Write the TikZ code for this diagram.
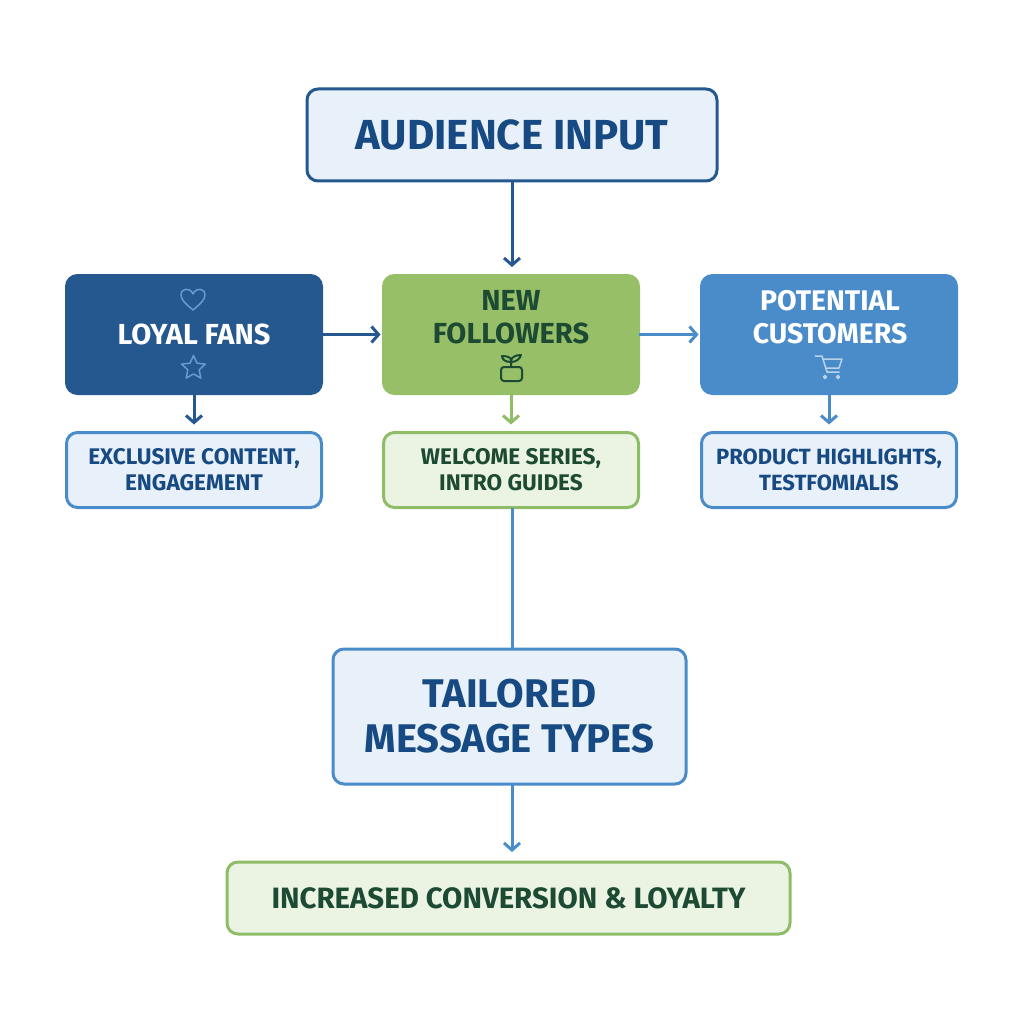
\documentclass[tikz,border=0pt]{standalone}
\usepackage{fontspec}
\setsansfont{Fira Sans}
\usetikzlibrary{arrows.meta,shapes.geometric}
\definecolor{navy}{HTML}{24588F}
\definecolor{navytext}{HTML}{174A82}
\definecolor{midblue}{HTML}{4A8BC9}
\definecolor{leaf}{HTML}{96BF68}
\definecolor{leafline}{HTML}{8FBC66}
\definecolor{leaftext}{HTML}{1C4A33}
\definecolor{paleblue}{HTML}{E8F0F9}
\definecolor{paleleaf}{HTML}{EBF4E3}
\tikzset{
  box/.style={draw,rounded corners=11pt,line width=3pt,align=center,inner sep=0pt,outer sep=0pt,font=\sffamily\bfseries},
  bigbox/.style={box,minimum width=255pt,minimum height=118pt,font=\sffamily\bfseries\fontsize{29}{33}\selectfont},
  subbox/.style={box,minimum width=255pt,minimum height=75pt,font=\sffamily\bfseries\fontsize{22.6}{26}\selectfont},
  link/.style={line width=3pt,-{Straight Barb[length=7pt,width=16pt,line width=3pt]}},
  icon/.style={line width=1.5pt,line join=round,line cap=round}
}
\begin{document}
\begin{tikzpicture}[x=1pt,y=-1pt]

  \useasboundingbox (0,0) rectangle (1024,1024);

  % top box
  \node[box,draw=navy,fill=paleblue,text=navytext,minimum width=410pt,minimum height=92pt,font=\sffamily\bfseries\fontsize{42}{46}\selectfont] (nodeInput) at (512,135) {AUDIENCE INPUT};

  % the three audiences
  \node[bigbox,draw=navy,fill=navy,text=white] (nodeFans) at (194,334.5) {LOYAL FANS};
  \node[bigbox,draw=leaf,fill=leaf,text=leaftext] (nodeNew) at (511,334.5) {};
  \node[bigbox,draw=midblue,fill=midblue,text=white] (nodeCust) at (829,334.5) {};
  \node[font=\sffamily\bfseries\fontsize{29}{33}\selectfont,text=leaftext,align=center] (textNew) at (511,317) {NEW\\FOLLOWERS};
  \node[font=\sffamily\bfseries\fontsize{28.4}{33}\selectfont,text=white,align=center] (textCust) at (830,317) {POTENTIAL\\CUSTOMERS};

  % what each one gets
  \node[subbox,draw=midblue,fill=paleblue,text=navytext] (nodeExcl) at (194,470) {EXCLUSIVE CONTENT,\\ENGAGEMENT};
  \node[subbox,draw=leafline,fill=paleleaf,text=leaftext] (nodeWelc) at (511,470) {WELCOME SERIES,\\INTRO GUIDES};
  \node[subbox,draw=midblue,fill=paleblue,text=navytext,font=\sffamily\bfseries\fontsize{22}{26}\selectfont] (nodeProd) at (829,470) {PRODUCT HIGHLIGHTS,\\TESTFOMIALIS};

  % bottom boxes
  \node[box,draw=midblue,fill=paleblue,text=navytext,minimum width=353pt,minimum height=135pt,font=\sffamily\bfseries\fontsize{40}{45}\selectfont] (nodeType) at (509.5,716.5) {TAILORED\\MESSAGE TYPES};
  \node[box,draw=leafline,fill=paleleaf,text=leaftext,minimum width=563pt,minimum height=72pt,font=\sffamily\bfseries\fontsize{29.4}{32}\selectfont] (nodeLoyal) at (508.5,898) {INCREASED CONVERSION \& LOYALTY};

  % connectors
  \coordinate (inNew) at (512,267);
  \draw[link,navy] (nodeInput.south -| inNew) -- (inNew);
  \draw[link,navy,shorten >=3pt] (nodeFans.east) -- (nodeNew.west);
  \draw[link,midblue,shorten >=3pt] (nodeNew.east) -- (nodeCust.west);
  \draw[link,navy,shorten >=8pt] (nodeFans.south) -- (nodeExcl.north);
  \draw[link,leafline,shorten >=8pt] (nodeNew.south) -- (nodeWelc.north);
  \draw[link,midblue,shorten >=8pt] (nodeCust.south) -- (nodeProd.north);
  \coordinate (typeTop) at (512,648);
  \draw[line width=3pt,midblue] (nodeWelc.south -| typeTop) -- (typeTop);
  \coordinate (loyalTop) at (512,852);
  \draw[link,midblue] (nodeType.south -| loyalTop) -- (loyalTop);

  % icons
  \draw[icon,midblue!85!white] (193,310) .. controls (186,304) and (181,300) .. (181,295) .. controls (181,288) and (190,287) .. (193,294) .. controls (196,287) and (205,288) .. (205,295) .. controls (205,300) and (200,304) .. (193,310) -- cycle;
  \node[icon,draw=midblue!85!white,star,star points=5,star point ratio=2.1,minimum size=25pt,inner sep=0pt] (iconStar) at (193.5,368) {};

  \draw[icon,leaftext,line width=2pt,rounded corners=3pt] (501,367) rectangle (522,381);
  \draw[icon,leaftext,line width=2pt] (511,367) -- (511,360) .. controls (511,357) and (506,356) .. (502,356) .. controls (502,360) and (506,362) .. (511,362);
  \draw[icon,leaftext,line width=2pt] (511,362) .. controls (516,362) and (520,359) .. (521,355) .. controls (516,355) and (512,357) .. (511,360);

  \draw[icon,paleblue!70!midblue] (815,356) -- (822,356) -- (827,372) -- (839,372);
  \draw[icon,paleblue!70!midblue] (823,359) -- (842,359) -- (839,368) -- (826,368);
  \draw[icon,paleblue!70!midblue] (825,377) circle (1.5) (838,377) circle (1.5);

\end{tikzpicture}
\end{document}
